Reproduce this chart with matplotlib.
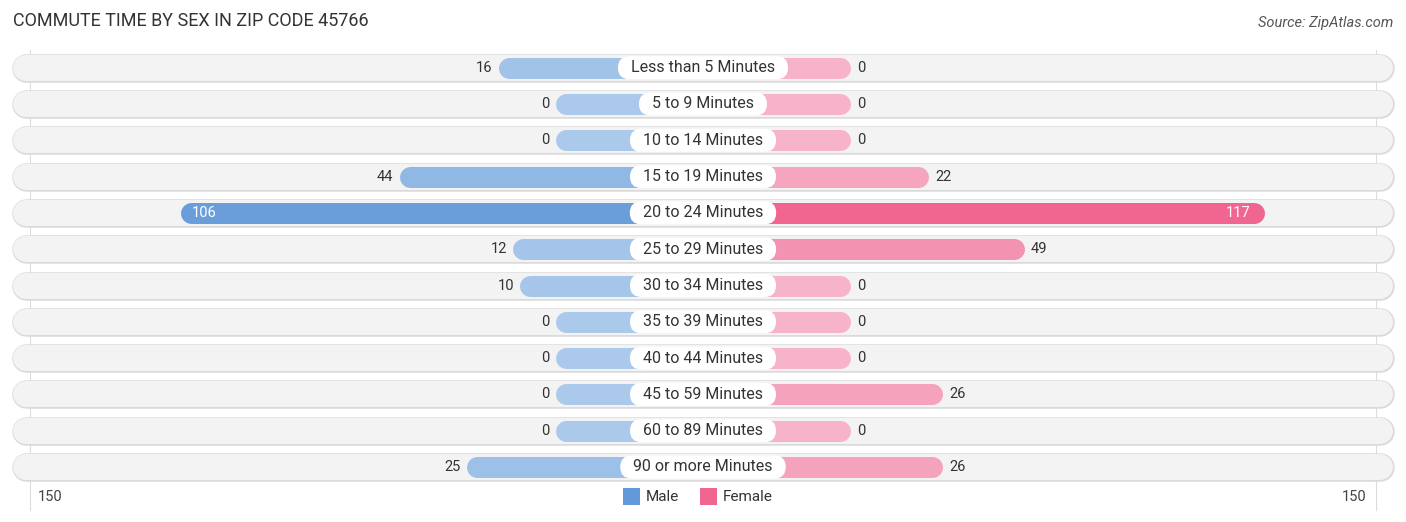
import matplotlib
matplotlib.use("Agg")
import matplotlib.pyplot as plt
import numpy as np
from matplotlib.colors import to_rgb
from matplotlib.patches import FancyBboxPatch
from matplotlib.transforms import IdentityTransform

categories = ["Less than 5 Minutes", "5 to 9 Minutes", "10 to 14 Minutes", "15 to 19 Minutes",
              "20 to 24 Minutes", "25 to 29 Minutes", "30 to 34 Minutes", "35 to 39 Minutes",
              "40 to 44 Minutes", "45 to 59 Minutes", "60 to 89 Minutes", "90 or more Minutes"]
male = [16, 0, 0, 44, 106, 12, 10, 0, 0, 0, 0, 25]
female = [0, 0, 0, 22, 117, 49, 0, 0, 0, 26, 0, 26]
axis_max = 150
title = "COMMUTE TIME BY SEX IN ZIP CODE 45766"
source = "Source: ZipAtlas.com"

plt.rcParams['font.family'] = ['Roboto', 'DejaVu Sans']

W, H, DPI = 1406, 522, 100
PXU = 3.54          # pixels per data unit (x)
CX = 703            # centre pixel
ROW0, ROWSP = 67.7, 36.3
OFF = 41.7          # stub length behind the label
BAR_PX = 21
BG_PX = 27

fig = plt.figure(figsize=(W / DPI, H / DPI), dpi=DPI)
ax = fig.add_axes([0, 0, 1, 1])
ax.set_xlim(-CX / PXU, (W - CX) / PXU)
ax.set_ylim((H - ROW0) / ROWSP, -ROW0 / ROWSP)
ax.axis('off')

def pt(px):
    return px * 72 / DPI

def mix(c1, c2, t):
    a, b = np.array(to_rgb(c1)), np.array(to_rgb(c2))
    return tuple(a + (b - a) * t)

vmax = max(max(male), max(female))
m_lo, m_hi = '#abcaeb', '#6399d8'
f_lo, f_hi = '#f7b3c9', '#f06690'

bg_half = (BG_PX / 2) / PXU
bg_edge = (CX - 12) / PXU
bar_half = (BAR_PX / 2) / PXU

# gridlines at ±150
grid_x = 190
ytop = (50 - ROW0) / ROWSP
ybot_g = (510 - ROW0) / ROWSP
for gx in (-grid_x, grid_x):
    ax.plot([gx, gx], [ytop, ybot_g], color='#dcdcdc', lw=0.8, zorder=0)

labels = []
for i, (cat, m, f) in enumerate(zip(categories, male, female)):
    # row background
    ax.plot([-bg_edge + bg_half, bg_edge - bg_half], [i, i], color='#dadada',
            lw=pt(BG_PX + 1.5), solid_capstyle='round', zorder=1)
    ax.plot([-bg_edge + bg_half, bg_edge - bg_half], [i, i], color='#f3f3f3',
            lw=pt(BG_PX - 1), solid_capstyle='round', zorder=1)
    # bars
    mc = mix(m_lo, m_hi, m / vmax)
    fc = mix(f_lo, f_hi, f / vmax)
    mend = -(OFF + m)
    fend = OFF + f
    ax.plot([mend + bar_half, 0], [i, i], color=mc, lw=pt(BAR_PX), solid_capstyle='round', zorder=2)
    ax.plot([0, fend - bar_half], [i, i], color=fc, lw=pt(BAR_PX), solid_capstyle='round', zorder=2)
    # value labels
    if m > 90:
        ax.text(mend + 12 / PXU, i, str(m), ha='left', va='center', fontsize=10.5, color='white', zorder=4)
    else:
        ax.text(mend - 6 / PXU, i, str(m), ha='right', va='center', fontsize=10.5, color='#333333', zorder=4)
    if f > 90:
        ax.text(fend - 14 / PXU, i, str(f), ha='right', va='center', fontsize=10.5, color='white', zorder=4)
    else:
        ax.text(fend + 7 / PXU, i, str(f), ha='left', va='center', fontsize=10.5, color='#333333', zorder=4)
    # category label
    t = ax.text(0, i, cat, ha='center', va='center', fontsize=11.5, color='#333333', zorder=6)
    labels.append((i, t))

fig.canvas.draw()
renderer = fig.canvas.get_renderer()
for i, t in labels:
    bb = t.get_window_extent(renderer)
    cx_px, cy_px = ax.transData.transform((0, i))
    bw = bb.width + 26
    bh = 23
    box = FancyBboxPatch((cx_px - bw / 2, cy_px - bh / 2), bw, bh,
                         boxstyle="round,pad=0,rounding_size=11.5",
                         transform=IdentityTransform(), fc='white', ec='none', zorder=5)
    ax.add_patch(box)

# axis labels
ybot = (497 - ROW0) / ROWSP
ax.text(-grid_x + 7 / PXU, ybot, str(axis_max), ha='left', va='center', fontsize=10.5, color='#444444')
ax.text(grid_x - 9 / PXU, ybot, str(axis_max), ha='right', va='center', fontsize=10.5, color='#444444')

# legend
fig.patches.append(plt.Rectangle((623 / W, 1 - 505 / H), 17 / W, 17 / H, transform=fig.transFigure,
                                 fc='#6399d8', ec='none'))
fig.text(646 / W, 1 - 497 / H, "Male", ha='left', va='center', fontsize=11, color='#333333')
fig.patches.append(plt.Rectangle((700 / W, 1 - 505 / H), 17 / W, 17 / H, transform=fig.transFigure,
                                 fc='#f06690', ec='none'))
fig.text(723 / W, 1 - 497 / H, "Female", ha='left', va='center', fontsize=11, color='#333333')

fig.text(13 / W, 1 - 21 / H, title, ha='left', va='center', fontsize=13, color='#333333')
fig.text(1393 / W, 1 - 23 / H, source, ha='right', va='center', fontsize=10.5, color='#555555',
         style='italic')

fig.savefig('out.png', dpi=DPI)
